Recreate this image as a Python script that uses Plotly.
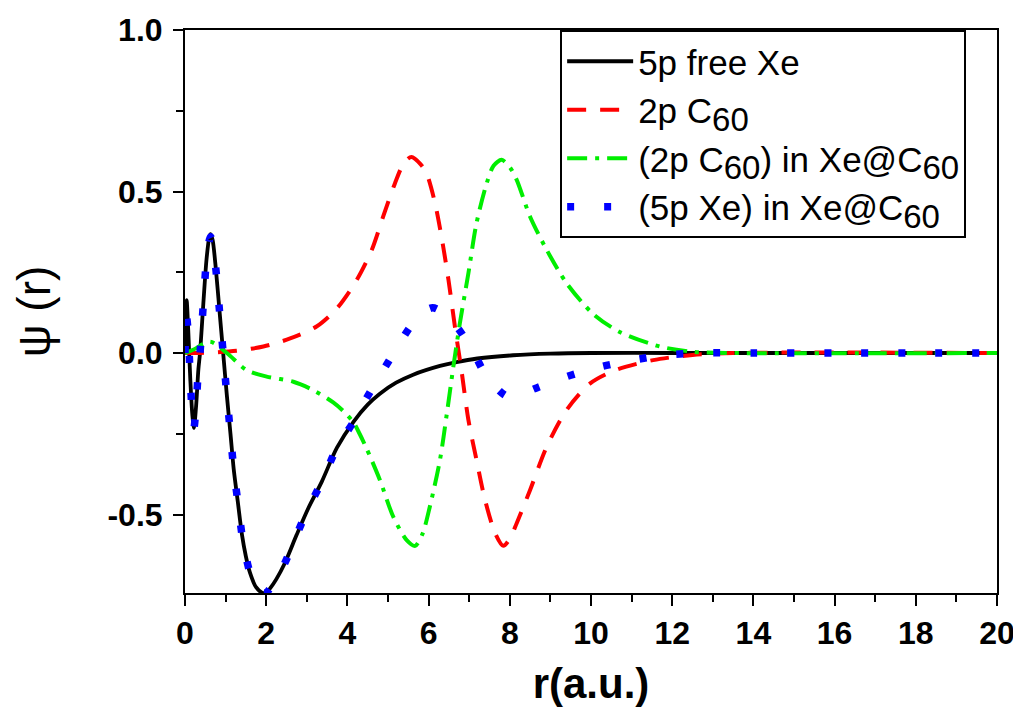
import plotly.graph_objects as go

# ---- data ----
r_free = [0, 0.04, 0.08, 0.13, 0.18, 0.22, 0.27, 0.33, 0.37, 0.45, 0.53, 0.6, 0.63, 0.68, 0.76, 0.85,
          0.94, 1.03, 1.12, 1.2, 1.3, 1.4, 1.5, 1.6, 1.75, 1.9, 2.0, 2.1, 2.25, 2.46, 2.75, 3.04, 3.37,
          3.74, 4.15, 4.5, 4.8, 5.2, 5.62, 6.28, 6.69, 7.2, 8.08, 9, 10, 12, 14, 16, 18, 20]
psi_free = [0, 0.164, 0.07, -0.08, -0.19, -0.232, -0.17, -0.05, 0.0, 0.15, 0.29, 0.36, 0.368, 0.35, 0.26, 0.13,
            0.0, -0.13, -0.25, -0.36, -0.46, -0.56, -0.63, -0.68, -0.725, -0.742, -0.742, -0.728, -0.70, -0.65, -0.563, -0.48, -0.398,
            -0.294, -0.213, -0.16, -0.126, -0.092, -0.067, -0.04, -0.028, -0.017, -0.007, -0.002, 0, 0, 0, 0, 0, 0]

r_c60 = [0, 0.37, 1.27, 1.93, 2.59, 3.24, 3.74, 4.23, 4.6, 4.88, 5.17, 5.4, 5.58, 5.8, 5.95, 6.16, 6.36,
         6.49, 6.65, 6.82, 6.98, 7.18, 7.39, 7.64, 7.84, 8.0, 8.17, 8.5, 8.91, 9.4, 9.98, 10.6, 11.53,
         12.5, 13.5, 20]
psi_c60 = [0, 0, 0.007, 0.02, 0.045, 0.082, 0.138, 0.226, 0.319, 0.422, 0.525, 0.59, 0.607, 0.585, 0.556, 0.463, 0.329,
           0.226, 0.08, -0.063, -0.207, -0.331, -0.455, -0.558, -0.597, -0.575, -0.527, -0.424, -0.29, -0.176, -0.094, -0.053, -0.022,
           -0.006, 0, 0]

r_c60_in = [0, 0.2, 0.62, 1.03, 1.52, 2.01, 2.67, 3.16, 3.65, 3.9, 4.15, 4.3, 4.47, 4.8, 5.13, 5.46, 5.67, 5.85, 6.03,
            6.28, 6.45, 6.61, 6.77, 6.98, 7.18, 7.43, 7.6, 7.8, 8.0, 8.17, 8.5, 8.91, 9.4, 10.06, 10.71,
            11.7, 12.5, 13.5, 20]
psi_c60_in = [0, 0.01, 0.035, 0, -0.053, -0.073, -0.089, -0.115, -0.153, -0.18, -0.215, -0.25, -0.295, -0.393, -0.507, -0.579, -0.597, -0.56, -0.476,
              -0.331, -0.187, -0.042, 0.092, 0.247, 0.402, 0.525, 0.58, 0.598, 0.575, 0.536, 0.422, 0.319, 0.216, 0.12, 0.065,
              0.02, 0.004, 0, 0]

r_xe_in = [0, 0.04, 0.08, 0.13, 0.18, 0.22, 0.27, 0.33, 0.37, 0.45, 0.53, 0.6, 0.63, 0.68, 0.76, 0.85,
           0.94, 1.03, 1.12, 1.2, 1.3, 1.4, 1.5, 1.6, 1.75, 1.9, 2.0, 2.1, 2.25, 2.46, 2.75, 3.04, 3.37,
           3.74, 4.15, 4.47, 4.84, 5.2, 5.54, 5.85, 6.1, 6.35, 6.72, 7.1, 7.43, 7.92, 8.2, 8.66, 9.4,
           10.26, 11.04, 11.86, 12.72, 14, 16, 18, 20]
psi_xe_in = [0, 0.11, 0.06, -0.08, -0.19, -0.232, -0.17, -0.05, 0.0, 0.15, 0.29, 0.35, 0.36, 0.345, 0.26, 0.13,
             0.0, -0.13, -0.25, -0.36, -0.46, -0.56, -0.63, -0.68, -0.725, -0.742, -0.742, -0.728, -0.70, -0.65, -0.563, -0.48, -0.398,
             -0.294, -0.213, -0.14, -0.062, 0.012, 0.08, 0.125, 0.14, 0.125, 0.077, 0.004, -0.073, -0.133, -0.13, -0.108, -0.073,
             -0.042, -0.022, -0.006, 0, 0, 0, 0, 0]

x_ticks = [0, 2, 4, 6, 8, 10, 12, 14, 16, 18, 20]
y_ticks = [-0.5, 0.0, 0.5, 1.0]
y_tick_text = ["-0.5", "0.0", "0.5", "1.0"]

FONT = "Liberation Sans, Arial, sans-serif"


def sub(t):
    return "<sub><span style='font-size:33px'>" + t + "</span></sub>"


names = ["5p free Xe",
         "2p C" + sub("60"),
         "(2p C" + sub("60") + ") in Xe@C" + sub("60"),
         "(5p Xe) in Xe@C" + sub("60")]

fig = go.Figure()
fig.add_trace(go.Scatter(x=r_free, y=psi_free, mode="lines", name=names[0],
                         line=dict(color="black", width=3.8, shape="spline", smoothing=0.8),
                         legendgroup="a"))
fig.add_trace(go.Scatter(x=r_c60, y=psi_c60, mode="lines", name=names[1],
                         line=dict(color="#ff0000", width=4, dash="19px,14px", shape="spline", smoothing=0.8),
                         legendgroup="b"))
fig.add_trace(go.Scatter(x=r_c60_in, y=psi_c60_in, mode="lines", name=names[2],
                         line=dict(color="#00ee00", width=4, dash="20px,8px,4px,8px", shape="spline", smoothing=0.8),
                         legendgroup="c"))
fig.add_trace(go.Scatter(x=r_xe_in, y=psi_xe_in, mode="lines", name=names[3],
                         line=dict(color="#0000ff", width=7.5, dash="7px,30px", shape="spline", smoothing=0.8),
                         legendgroup="d"))

axis_common = dict(showline=True, linecolor="black", linewidth=2, mirror=True, showgrid=False,
                   zeroline=False, ticks="outside", tickcolor="black", tickwidth=2,
                   tickfont=dict(family=FONT, size=32, color="black", weight="bold"))

fig.update_xaxes(range=[0, 20], tickvals=x_ticks, ticklen=11,
                 minor=dict(dtick=1, tick0=0, ticks="outside", ticklen=7, tickwidth=2, tickcolor="black"),
                 title=dict(text="<b>r(a.u.)</b>", font=dict(family=FONT, size=42, color="black"), standoff=18),
                 **axis_common)
fig.update_yaxes(range=[-0.743, 1.0], tickvals=y_ticks, ticktext=y_tick_text, ticklen=10,
                 ticklabelstandoff=4,
                 minor=dict(dtick=0.25, tick0=0, ticks="outside", ticklen=7, tickwidth=2, tickcolor="black"),
                 title=dict(text="ψ (r)", font=dict(family=FONT, size=46, color="black"), standoff=60),
                 **axis_common)

# page body has an 8px margin; the figure is sized so that the plot area
# lands at x 185..997, y 30..593 in the 1021x713 window
fig.update_layout(
    width=1013, height=705,
    margin=dict(l=177, r=24, t=22, b=120, autoexpand=False),
    plot_bgcolor="white", paper_bgcolor="white",
    legend=dict(x=0.462, y=1.0, xanchor="left", yanchor="top",
                bgcolor="white", bordercolor="black", borderwidth=2,
                font=dict(family=FONT, size=35, color="black"),
                itemwidth=66, tracegroupgap=8, traceorder="normal"),
)

fig.write_html("out.html")
